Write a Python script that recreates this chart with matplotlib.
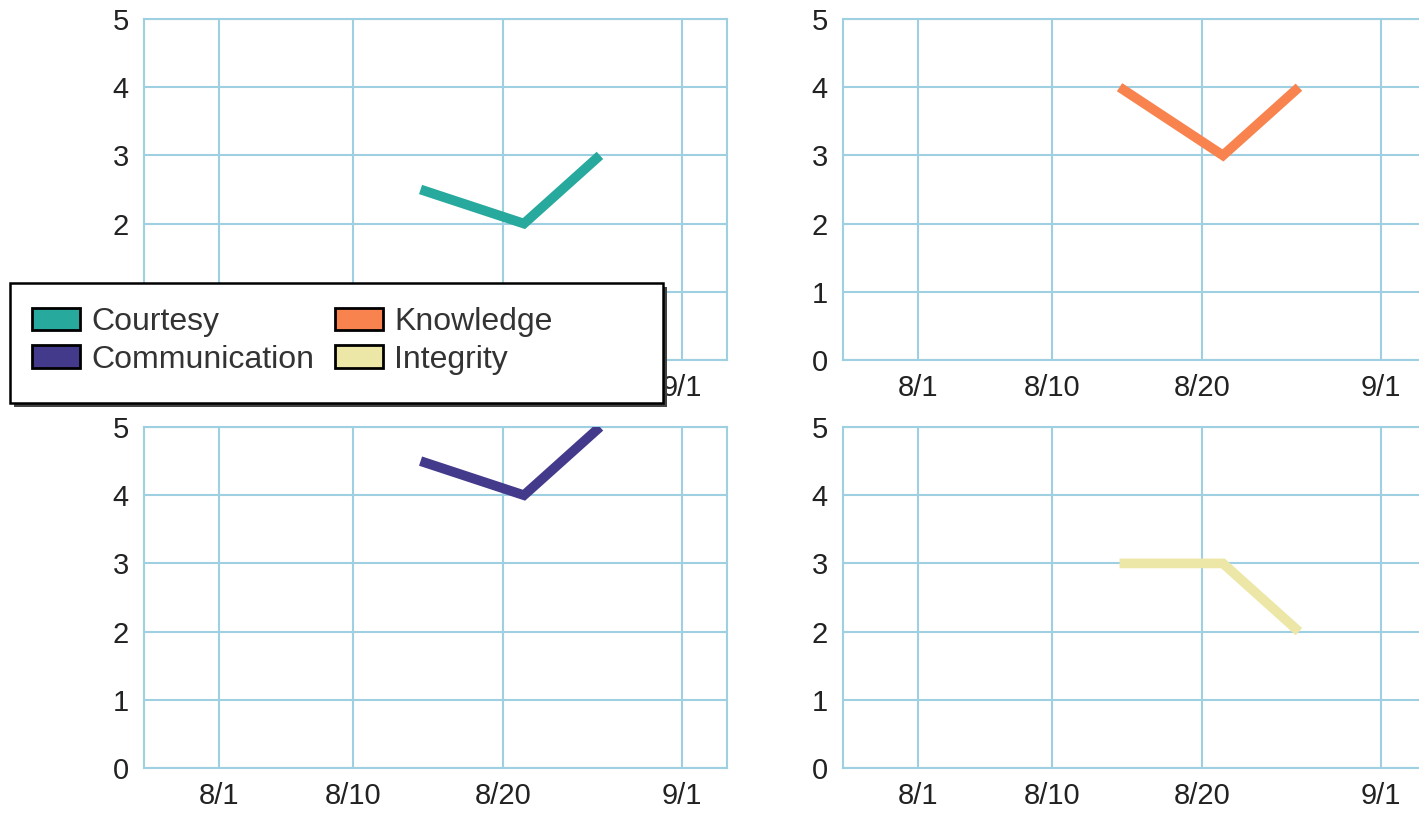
import pandas as pd
import matplotlib
matplotlib.use("Agg")
import matplotlib.pyplot as plt
from matplotlib.patches import Patch, Rectangle

# Bewertungen pro Kategorie
dates = pd.to_datetime(["2023-08-14 12:00", "2023-08-21 10:00", "2023-08-26 12:00"])
courtesy = [2.5, 2, 3]
knowledge = [4, 3, 4]
communication = [4.5, 4, 5]
integrity = [3, 3, 2]

labels = ["Courtesy", "Communication", "Knowledge", "Integrity"]
colors = {"Courtesy": "#27a99d", "Knowledge": "#f8834e",
          "Communication": "#433a8b", "Integrity": "#ede7a7"}

tick_dates = pd.to_datetime(["2023-08-01", "2023-08-10", "2023-08-20", "2023-09-01"])
tick_labels = ["8/1", "8/10", "8/20", "9/1"]
x_min, x_max = pd.Timestamp("2023-07-27"), pd.Timestamp("2023-09-04")

grid_col = "#9fd0e2"
plt.rcParams["font.family"] = ["Liberation Sans", "DejaVu Sans"]

fig = plt.figure(figsize=(14.19, 8.13), dpi=100)
W, H = 1419, 813

def make_axes(left_px, top_px):
    w, h = 583, 341
    return fig.add_axes([left_px / W, 1 - (top_px + h) / H, w / W, h / H])

panels = [
    (make_axes(144, 19), courtesy, "Courtesy"),
    (make_axes(843, 19), knowledge, "Knowledge"),
    (make_axes(144, 427), communication, "Communication"),
    (make_axes(843, 427), integrity, "Integrity"),
]

for ax, values, name in panels:
    ax.plot(dates, values, color=colors[name], lw=7,
            solid_capstyle="butt", solid_joinstyle="miter", zorder=3)
    ax.set_xlim(x_min, x_max)
    ax.set_ylim(0, 5)
    ax.set_yticks([0, 1, 2, 3, 4, 5])
    ax.set_xticks(tick_dates)
    ax.set_xticklabels(tick_labels)
    ax.grid(True, color=grid_col, lw=1.5)
    ax.set_axisbelow(True)
    for sp in ax.spines.values():
        sp.set_color(grid_col)
        sp.set_linewidth(1.5)
    ax.tick_params(length=0, labelsize=21, labelcolor="#222222")
    ax.tick_params(axis="y", pad=11)
    ax.tick_params(axis="x", pad=10)

# Legendenkasten mit Schatten
bx, by, bw, bh = 10, 283, 653, 120
fig.patches.append(Rectangle(((bx + 4) / W, 1 - (by + bh + 4) / H), bw / W, bh / H,
                             transform=fig.transFigure, facecolor="#444444",
                             edgecolor="none", zorder=4))
fig.patches.append(Rectangle((bx / W, 1 - (by + bh) / H), bw / W, bh / H,
                             transform=fig.transFigure, facecolor="white",
                             edgecolor="black", lw=1.8, zorder=4.5))

handles = [Patch(facecolor=colors[n], edgecolor="black", lw=2, label=n) for n in labels]
fig.legend(handles=handles, ncol=2, loc="upper left",
           bbox_to_anchor=(32 / W, 1 - 307 / H), frameon=False,
           fontsize=23, handlelength=1.5, handleheight=0.7,
           handletextpad=0.35, columnspacing=0.65, labelspacing=0.24,
           borderpad=0, borderaxespad=0, labelcolor="#333333").set_zorder(5)

fig.savefig("out.png", dpi=100)
